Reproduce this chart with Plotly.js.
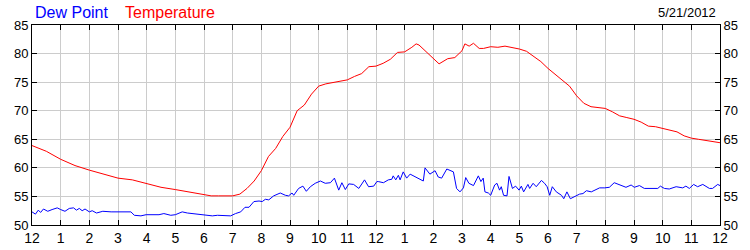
<!DOCTYPE html>
<html>
<head>
<meta charset="utf-8">
<script src="https://cdn.plot.ly/plotly-3.0.1.min.js"></script>
<style>html,body{margin:0;padding:0;background:#fff;}#chart{width:750px;height:250px;}</style>
</head>
<body>
<div id="chart"></div>
<script>
// Hours since midnight (0 = 12 AM, 24 = next 12 AM)
var tempHours = [0,0.5,1,1.5,2,2.5,3,3.5,4,4.5,5,5.5,6,6.25,6.5,7,7.25,7.5,7.75,7.9,8,8.25,8.5,8.75,9,9.25,9.5,9.75,10,10.25,10.5,10.75,11,11.25,11.5,11.75,12,12.25,12.5,12.75,13,13.25,13.4,13.5,13.75,14,14.2,14.5,14.75,15,15.1,15.25,15.4,15.6,15.75,16,16.25,16.5,16.75,17,17.25,17.5,17.75,18,18.25,18.5,18.75,19,19.25,19.5,19.75,20,20.25,20.5,20.75,21,21.25,21.5,21.75,22,22.25,22.5,22.75,23,23.25,23.5,23.75,24];
var tempValues = [63.9,62.9,61.5,60.4,59.6,58.9,58.2,57.9,57.2,56.6,56.2,55.8,55.4,55.1,55.1,55.1,55.4,56.4,57.7,58.9,59.5,62.0,63.4,65.5,67.1,70.0,71.0,72.9,74.3,74.7,74.9,75.1,75.4,76.0,76.5,77.7,77.8,78.3,79.0,80.2,80.3,81.1,81.7,81.5,80.3,79.0,78.2,79.1,79.3,80.5,81.7,81.3,81.8,80.9,80.9,81.2,81.1,81.3,81.1,80.8,80.4,79.5,78.6,77.4,76.4,75.4,74.3,72.6,71.3,70.7,70.6,70.4,69.8,69.1,68.8,68.5,68.0,67.3,67.2,66.9,66.7,66.3,65.6,65.2,65.0,64.8,64.5,64.4];

var dewHours = [0,0.12,0.22,0.3,0.4,0.55,0.7,0.88,1.0,1.15,1.3,1.45,1.55,1.65,1.75,1.85,2.0,2.1,2.25,2.47,2.76,3.45,3.57,3.8,3.98,
  4.43,4.6,4.84,5.0,5.24,5.42,5.71,6.0,6.29,6.47,6.7,6.93,7.1,7.28,7.43,7.57,7.74,7.92,8.03,
  8.14,8.26,8.43,8.66,8.84,8.95,9.07,9.13,9.3,9.45,9.57,9.71,9.88,10.06,10.23,10.41,10.55,10.7,10.81,10.93,11.05,11.22,11.4,11.6,11.74,11.92,12.03,
  12.08,12.26,12.43,12.55,12.6,12.69,12.78,12.84,12.95,13.07,13.19,13.42,13.65,13.71,13.88,14.06,14.17,14.29,14.47,14.7,14.81,14.93,15.05,15.13,15.24,15.4,15.57,15.66,15.74,15.8,15.92,16.0,
  16.14,16.22,16.31,16.37,16.45,16.57,16.64,16.76,16.87,16.99,17.07,17.15,17.3,17.36,17.48,17.59,17.77,17.88,17.97,18.06,18.15,18.29,18.47,18.55,18.66,18.78,18.93,19.1,19.22,19.34,19.51,19.63,19.8,19.98,
  20.14,20.31,20.49,20.72,20.9,21.01,21.19,21.36,21.83,21.92,22.06,22.23,22.47,22.7,22.81,22.93,23.08,23.22,23.4,23.63,23.74,23.92,24.0];
var dewValues = [52.3,51.9,52.6,52.2,52.8,52.4,52.7,53.0,52.7,52.4,52.9,53.0,52.6,52.9,52.5,52.8,52.3,52.5,52.1,52.4,52.3,52.3,51.7,51.6,51.8,
  51.8,52.0,51.7,51.8,52.3,52.1,51.9,51.8,51.6,51.7,51.6,51.6,52.0,52.3,53.1,53.1,54.1,54.2,54.1,
  54.5,54.4,55.1,55.6,55.2,55.1,55.6,55.2,56.4,56.8,55.9,56.7,57.3,57.7,57.3,57.4,58.2,56.1,57.4,56.2,57.2,57.1,56.4,57.9,56.7,56.8,57.6,
  57.6,57.4,57.9,58.0,58.6,57.9,58.7,57.9,59.3,58.2,58.9,58.3,57.7,60.0,58.9,59.5,58.4,58.2,59.8,59.3,56.4,55.8,56.5,58.3,57.3,56.9,58.6,57.6,58.2,55.8,55.6,55.2,
  57.0,57.3,56.1,56.7,55.2,55.1,58.5,56.4,56.8,56.1,56.8,55.8,57.1,56.4,57.3,56.7,57.8,57.3,56.7,55.2,56.7,55.8,55.2,54.6,55.8,54.6,55.0,55.4,55.5,56.0,55.8,56.1,56.5,56.5,
  56.6,57.4,57.0,56.6,57.0,56.6,56.9,56.4,56.4,56.8,56.4,56.3,56.7,56.5,56.8,56.4,57.1,56.7,57.1,56.4,56.4,57.1,56.9];

var xTickVals = [0,1,2,3,4,5,6,7,8,9,10,11,12,13,14,15,16,17,18,19,20,21,22,23,24];
var xTickText = ["12","1","2","3","4","5","6","7","8","9","10","11","12","1","2","3","4","5","6","7","8","9","10","11","12"];
var yTickVals = [50,55,60,65,70,75,80,85];
var dateLabel = "5/21/2012";
var seriesNames = ["Dew Point","Temperature"];

var traces = [
  {x: dewHours, y: dewValues, name: seriesNames[0], type: "scatter", mode: "lines",
   line: {color: "#0000ff", width: 1}, yaxis: "y2"},
  {x: tempHours, y: tempValues, name: seriesNames[1], type: "scatter", mode: "lines",
   line: {color: "#ff0000", width: 1}}
];

var fontFam = "Arial, 'Liberation Sans', sans-serif";
var yCommon = {
  range: [50, 85], tickvals: yTickVals, showgrid: true, gridcolor: "#cccccc", gridwidth: 1,
  zeroline: false, showline: true, linecolor: "#000", linewidth: 1,
  ticks: "inside", ticklen: 5, tickcolor: "#000", tickfont: {family: fontFam, size: 13, color: "#000"}
};
var layout = {
  width: 750, height: 250,
  margin: {l: 32, r: 30, t: 25, b: 25, pad: 0},
  paper_bgcolor: "#fff", plot_bgcolor: "#fff",
  showlegend: false,
  xaxis: {range: [0, 24], tickvals: xTickVals, ticktext: xTickText, showgrid: true,
    gridcolor: "#cccccc", gridwidth: 1, zeroline: false, showline: true, mirror: "ticks",
    linecolor: "#000", linewidth: 1, ticks: "inside", ticklen: 5, tickcolor: "#000",
    tickfont: {family: fontFam, size: 14, color: "#000"}},
  yaxis: Object.assign({}, yCommon, {side: "left"}),
  yaxis2: Object.assign({}, yCommon, {side: "right", overlaying: "y", showgrid: false}),
  annotations: [
    {text: seriesNames[0], xref: "paper", yref: "paper", x: 0.0015, y: 1.065, xanchor: "left", yanchor: "middle",
     showarrow: false, font: {family: fontFam, size: 16, color: "#0000ff"}},
    {text: seriesNames[1], xref: "paper", yref: "paper", x: 0.132, y: 1.065, xanchor: "left", yanchor: "middle",
     showarrow: false, font: {family: fontFam, size: 16, color: "#ff0000"}},
    {text: dateLabel, xref: "paper", yref: "paper", x: 0.997, y: 1.065, xanchor: "right", yanchor: "middle",
     showarrow: false, font: {family: fontFam, size: 13, color: "#000"}}
  ]
};
Plotly.newPlot("chart", traces, layout, {staticPlot: true, displayModeBar: false});
</script>
</body>
</html>
